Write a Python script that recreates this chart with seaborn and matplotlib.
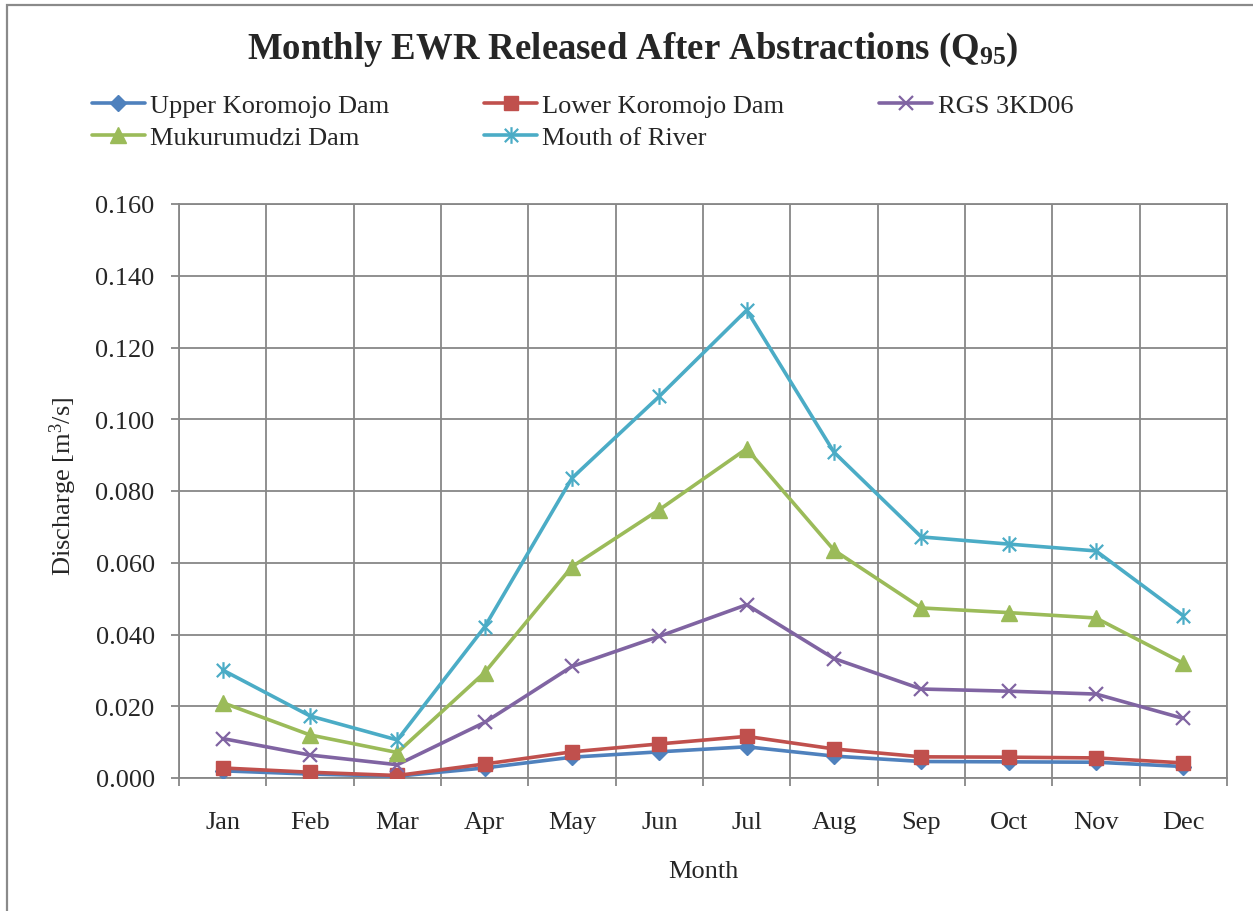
import numpy as np
import pandas as pd
import matplotlib
matplotlib.use("Agg")
import matplotlib.pyplot as plt
from matplotlib.path import Path
from matplotlib.patches import Rectangle
import seaborn as sns

# ---- data ----
months = ["Jan", "Feb", "Mar", "Apr", "May", "Jun",
          "Jul", "Aug", "Sep", "Oct", "Nov", "Dec"]

upper_koromojo = [0.0020, 0.0011, 0.0005, 0.0028, 0.0058, 0.0073,
                  0.0087, 0.0061, 0.0046, 0.0045, 0.0044, 0.0032]
lower_koromojo = [0.0028, 0.0016, 0.0007, 0.0039, 0.0073, 0.0095,
                  0.0116, 0.0081, 0.0059, 0.0058, 0.0056, 0.0042]
rgs_3kd06 = [0.0110, 0.0064, 0.0037, 0.0155, 0.0311, 0.0395,
             0.0483, 0.0333, 0.0248, 0.0242, 0.0234, 0.0166]
mukurumudzi = [0.0210, 0.0120, 0.0071, 0.0294, 0.0589, 0.0748,
               0.0918, 0.0635, 0.0474, 0.0461, 0.0446, 0.0320]
mouth_of_river = [0.0301, 0.0173, 0.0106, 0.0421, 0.0836, 0.1064,
                  0.1304, 0.0908, 0.0672, 0.0652, 0.0633, 0.0452]

series_names = ["Upper Koromojo Dam", "Lower Koromojo Dam", "RGS 3KD06",
                "Mukurumudzi Dam", "Mouth of River"]
series_values = [upper_koromojo, lower_koromojo, rgs_3kd06,
                 mukurumudzi, mouth_of_river]

y_ticks = [0.000, 0.020, 0.040, 0.060, 0.080, 0.100, 0.120, 0.140, 0.160]

# ---- style ----
sns.set_style("white")
plt.rcParams["font.family"] = ["Liberation Serif", "DejaVu Serif"]
plt.rcParams["mathtext.fontset"] = "custom"
plt.rcParams["mathtext.rm"] = "Liberation Serif"
plt.rcParams["mathtext.it"] = "Liberation Serif:italic"
plt.rcParams["mathtext.bf"] = "Liberation Serif:bold"
plt.rcParams["mathtext.default"] = "regular"

grid_color = "#878787"

# asterisk-like marker: an X crossed by a vertical bar
star_path = Path(
    [(-1, -1), (1, 1), (-1, 1), (1, -1), (0, -1.25), (0, 1.25)],
    [Path.MOVETO, Path.LINETO, Path.MOVETO, Path.LINETO,
     Path.MOVETO, Path.LINETO],
)

styles = {
    "Upper Koromojo Dam": dict(color="#4F81BD", marker="D", ms=8.5, mew=1),
    "Lower Koromojo Dam": dict(color="#C0504D", marker="s", ms=10, mew=1),
    "RGS 3KD06": dict(color="#8064A2", marker="x", ms=10.5, mew=1.6),
    "Mukurumudzi Dam": dict(color="#9BBB59", marker="^", ms=11, mew=1),
    "Mouth of River": dict(color="#4BACC6", marker=star_path, ms=12, mew=1.6),
}

df = pd.DataFrame({"month_idx": np.arange(len(months))})
for name, vals in zip(series_names, series_values):
    df[name] = vals

fig = plt.figure(figsize=(12.53, 9.12), dpi=100)
ax = fig.add_axes([179 / 1253, 1 - 779 / 912, 1048 / 1253, 574 / 912])

for name in series_names:
    st = styles[name]
    sns.lineplot(
        data=df, x="month_idx", y=name, ax=ax, label=name,
        color=st["color"], linewidth=2.6,
        marker=st["marker"], markersize=st["ms"],
        markeredgewidth=st["mew"], markeredgecolor=st["color"],
        markerfacecolor=st["color"], zorder=3,
    )

# ---- axes ----
ax.set_xlim(-0.5, len(months) - 0.5)
ax.set_ylim(y_ticks[0], y_ticks[-1])
ax.set_yticks(y_ticks)
ax.set_yticklabels([f"{v:.3f}" for v in y_ticks])

ax.set_xticks(np.arange(len(months) + 1) - 0.5)
ax.set_xticklabels([])
ax.set_xticks(np.arange(len(months)), minor=True)
ax.set_xticklabels(months, minor=True)

ax.tick_params(axis="x", which="major", length=5.5, width=1.3,
               color=grid_color, direction="out", bottom=True)
ax.tick_params(axis="x", which="minor", length=0, pad=23.5, labelsize=19)
ax.tick_params(axis="y", which="major", length=5.5, width=1.3,
               color=grid_color, direction="out", left=True,
               pad=12, labelsize=19)

ax.grid(True, which="major", color=grid_color, linewidth=1.3)
ax.set_axisbelow(True)
for sp in ax.spines.values():
    sp.set_color(grid_color)
    sp.set_linewidth(1.3)

ax.set_xlabel("Month", fontsize=19)
ax.xaxis.set_label_coords(0.5, (779 - 872) / 574)
ax.xaxis.label.set_va("center")
ax.set_ylabel("Discharge [m$^3$/s]", fontsize=19)
ax.yaxis.set_label_coords((63 - 179) / 1048, (779 - 486) / 574)
ax.yaxis.label.set_va("center")

# ---- title ----
fig.text(0.505, 1 - 50 / 912,
         r"Monthly EWR Released After Abstractions (Q$_{\mathbf{95}}$)",
         ha="center", va="center", fontsize=26.5, fontweight="bold")

# ---- legend (row-major order across three columns) ----
handles, labels = ax.get_legend_handles_labels()
lookup = dict(zip(labels, handles))
order = ["Upper Koromojo Dam", "Mukurumudzi Dam", "Lower Koromojo Dam",
         "Mouth of River", "RGS 3KD06"]
if ax.legend_ is not None:
    ax.legend_.remove()
fig.legend([lookup[k] for k in order], order,
           loc="upper left", bbox_to_anchor=(92 / 1253, 1 - 95 / 912),
           ncol=3, frameon=False, fontsize=19,
           handlelength=2.0, handletextpad=0.2, columnspacing=3.6,
           labelspacing=0.3, borderaxespad=0, borderpad=0)

# ---- chart border ----
fig.patches.append(Rectangle((7 / 1253, -0.2), 1.5, 1 - 6 / 912 + 0.2,
                             transform=fig.transFigure, fill=False,
                             edgecolor="#8a8a8a", linewidth=1.6))

fig.savefig("out.png", dpi=100)
